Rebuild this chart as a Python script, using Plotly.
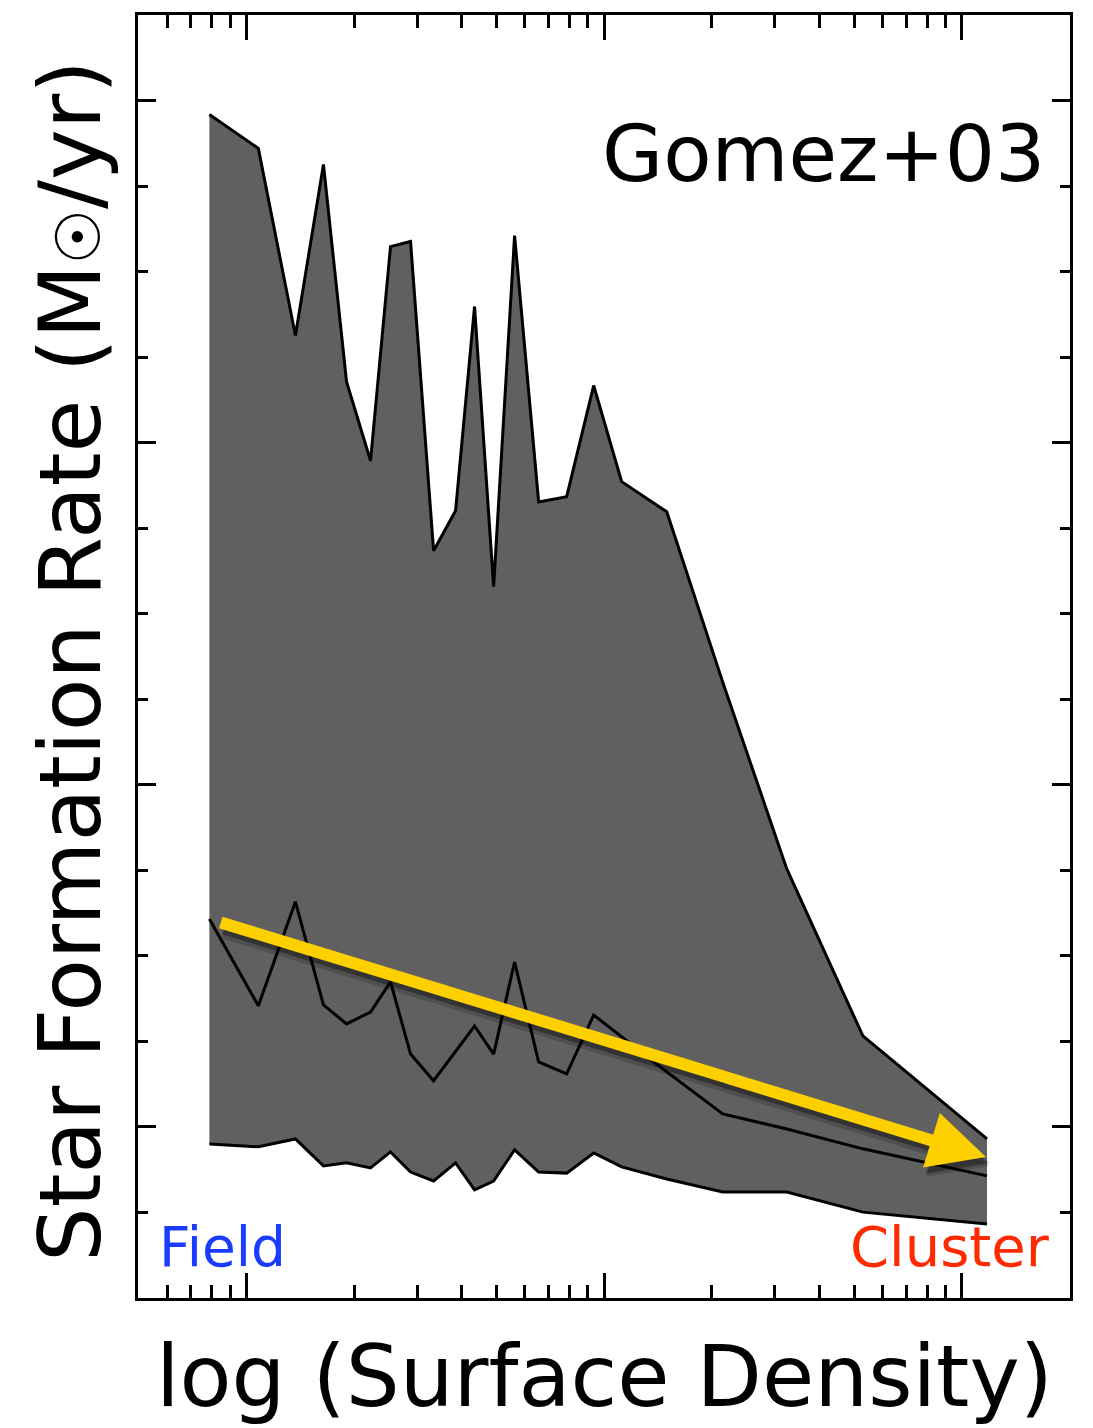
import math
import plotly.graph_objects as go

# ---------------- data ----------------
surface_density = [0.788, 1.080, 1.371, 1.642, 1.905, 2.223, 2.528, 2.876, 3.336, 3.843,
                   4.342, 4.909, 5.618, 6.559, 7.856, 9.346, 11.19, 14.96, 21.45, 32.39,
                   52.85, 117.5]
sfr_upper = [0.959, 0.860, 0.313, 0.813, 0.178, -0.053, 0.573, 0.588, -0.316, -0.199,
             0.398, -0.421, 0.605, -0.173, -0.158, 0.167, -0.114, -0.202, -0.700, -1.246,
             -1.734, -2.035]
sfr_median = [-1.392, -1.646, -1.342, -1.643, -1.699, -1.664, -1.576, -1.787, -1.865, -1.778,
              -1.705, -1.787, -1.518, -1.810, -1.845, -1.673, -1.737, -1.839, -1.962, -2.006,
              -2.064, -2.143]
sfr_lower = [-2.050, -2.058, -2.035, -2.114, -2.105, -2.120, -2.073, -2.132, -2.158, -2.105,
             -2.184, -2.158, -2.067, -2.132, -2.135, -2.076, -2.117, -2.152, -2.190, -2.190,
             -2.249, -2.284]

trend_start = (0.840, -1.401)   # (surface density, SFR) tail of the yellow arrow
trend_end = (116.7, -2.088)     # head of the yellow arrow

x_major = [1, 10, 100]
x_minor = [0.6, 0.7, 0.8, 0.9, 2, 3, 4, 5, 6, 7, 8, 9, 20, 30, 40, 50, 60, 70, 80, 90]
y_major = [-2, -1, 0, 1]
y_minor = [-2.25, -1.75, -1.5, -1.25, -0.75, -0.5, -0.25, 0.25, 0.5, 0.75, 1.25]

x_range_log = [-0.303, 2.302]
y_range = [-2.5, 1.25]

FONT = "DejaVu Sans"
GRAY = "#606060"

fig = go.Figure()

# shaded band between lower and upper envelopes
fig.add_trace(go.Scatter(
    x=surface_density + surface_density[::-1],
    y=sfr_upper + sfr_lower[::-1],
    fill="toself", fillcolor=GRAY, mode="lines",
    line=dict(width=0), hoverinfo="skip", showlegend=False))

for ys in (sfr_upper, sfr_median, sfr_lower):
    fig.add_trace(go.Scatter(x=surface_density, y=ys, mode="lines",
                             line=dict(color="black", width=3), showlegend=False))

# yellow trend arrow with soft shadow (annotation coords on a log axis are log10 values)
ax_log, x_log = math.log10(trend_start[0]), math.log10(trend_end[0])
for color, shift, width in (("rgba(0,0,0,0.18)", -9, 14), ("rgba(0,0,0,0.35)", -6, 12)):
    fig.add_annotation(x=x_log, y=trend_end[1], ax=ax_log, ay=trend_start[1],
                       xref="x", yref="y", axref="x", ayref="y", text="", showarrow=True,
                       arrowhead=2, arrowsize=0.95 * 12 / width, arrowwidth=width,
                       arrowcolor=color, yshift=shift, xshift=3)
fig.add_annotation(x=x_log, y=trend_end[1], ax=ax_log, ay=trend_start[1],
                   xref="x", yref="y", axref="x", ayref="y", text="", showarrow=True,
                   arrowhead=2, arrowsize=0.95, arrowwidth=12, arrowcolor="#FFD000")

# texts
fig.add_annotation(text="Gomez+03", xref="paper", yref="paper", x=0.975, y=0.892,
                   xanchor="right", yanchor="middle", showarrow=False,
                   font=dict(family=FONT, size=79, color="black"))
fig.add_annotation(text="Field", xref="paper", yref="paper", x=0.020, y=0.040,
                   xanchor="left", yanchor="middle", showarrow=False,
                   font=dict(family=FONT, size=55, color="#1a3cff"))
fig.add_annotation(text="Cluster", xref="paper", yref="paper", x=0.981, y=0.040,
                   xanchor="right", yanchor="middle", showarrow=False,
                   font=dict(family=FONT, size=56, color="#ff2a00"))
fig.add_annotation(text="log (Surface Density)", xref="paper", yref="paper", x=0.5, y=-0.061,
                   xanchor="center", yanchor="middle", showarrow=False,
                   font=dict(family=FONT, size=85, color="black"))
fig.add_annotation(text="Star Formation Rate (M<span style=\"font-size:62px\">\u2609</span>/yr)",
                   xref="paper", yref="paper",
                   x=-0.073, y=0.4965, xanchor="center", yanchor="middle", textangle=-90,
                   showarrow=False, font=dict(family=FONT, size=86, color="black"))

fig.update_xaxes(type="log", range=x_range_log, showline=True, linecolor="black", linewidth=3,
                 mirror="ticks", ticks="inside", tickmode="array", tickvals=x_major,
                 ticklen=25, tickwidth=2.5, tickcolor="black", showticklabels=False,
                 showgrid=False, zeroline=False,
                 minor=dict(tickmode="array", tickvals=x_minor, ticks="inside", ticklen=13,
                            tickwidth=2.5, tickcolor="black", showgrid=False))
fig.update_yaxes(range=y_range, showline=True, linecolor="black", linewidth=3,
                 mirror="ticks", ticks="inside", tickmode="array", tickvals=y_major,
                 ticklen=18, tickwidth=2.5, tickcolor="black", showticklabels=False,
                 showgrid=False, zeroline=False,
                 minor=dict(tickmode="array", tickvals=y_minor, ticks="inside", ticklen=10,
                            tickwidth=2.5, tickcolor="black", showgrid=False))

fig.update_layout(width=1093, height=1428, margin=dict(l=138, r=23, t=15, b=130),
                  paper_bgcolor="white", plot_bgcolor="white", showlegend=False)

fig.write_html("out.html")
